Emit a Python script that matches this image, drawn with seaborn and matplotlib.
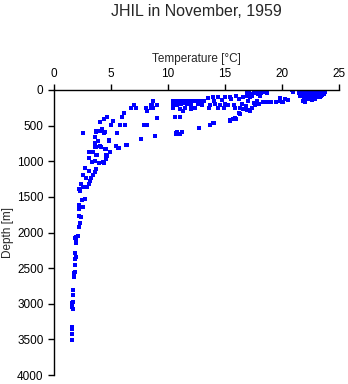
import seaborn as sns
import matplotlib
matplotlib.use("Agg")
import matplotlib.pyplot as plt
from pandas import DataFrame

# temperature [degC] and depth [m], grouped by region
# deep tail
deep_temp = [1.55, 1.6, 1.58, 1.55, 1.67, 1.6, 1.67, 1.55, 1.7, 1.7, 1.75, 1.78, 1.85, 1.81,
             1.87, 1.9, 1.83, 1.96, 1.9, 1.87, 1.93, 2.08, 2.19, 2.31, 2.34, 2.16, 2.22, 2.19,
             2.57, 2.43, 2.72, 2.31, 2.22, 2.57, 2.92, 2.4, 3.04, 3.16, 3.27, 2.81, 2.51, 3.39,
             3.6, 3.68, 3.1, 2.75, 3.95, 4.36, 3.3, 3.6, 4.59, 3.1, 3.74, 4.59, 3.45, 3.1, 4.94,
             4.53, 5.7, 5.47, 6.3, 4.06, 3.63, 3.6, 3.83, 4.85, 3.6, 7.63, 8.83, 2.51, 3.68,
             4.41, 5.55, 10.7, 11.05]
deep_depth = [3509, 3430, 3360, 3320, 3080, 3050, 2975, 2990, 2873, 2812, 2620, 2573, 2560, 2461,
              2368, 2340, 2293, 2152, 2115, 2083, 2059, 2050, 1918, 1871, 1787, 1773, 1675, 1610,
              1638, 1544, 1530, 1418, 1390, 1366, 1366, 1324, 1324, 1277, 1240, 1240, 1193, 1193,
              1151, 1113, 1132, 1100, 1029, 1029, 1015, 992, 973, 959, 912, 912, 875, 875, 875,
              833, 819, 786, 772, 786, 795, 749, 711, 711, 664, 688, 646, 599, 585,
              599, 599, 599, 617]

# thermocline, cold side
mid_temp = [7.0, 6.73, 7.16, 8.04, 8.18, 8.53, 8.68, 8.48, 6.14, 5.99, 5.2, 4.67, 4.39, 4.0,
            4.97, 5.79, 6.2, 7.89, 8.13, 4.24, 3.65, 4.0, 4.44, 4.82, 7.6, 3.57, 3.65, 4.1,
            5.41, 5.61, 6.37, 4.47, 3.13, 3.45, 4.91, 3.65, 4.62, 3.07, 4.53, 3.36, 4.32]
mid_depth = [210, 257, 257, 257, 295, 257, 154, 210, 327, 375, 435, 383, 411, 453,
             491, 491, 491, 491, 491, 547, 575, 575, 594, 702, 688, 749, 795, 795,
             786, 810, 772, 833, 866, 866, 866, 912, 922, 950, 969, 1006, 1015]

# thermocline, warm side
upper_temp = [8.71, 8.57, 9.0, 8.71, 9.06, 8.86, 10.41, 10.46, 11.2, 11.34, 11.64, 12.2, 12.8,
              13.2, 13.5, 13.97, 14.4, 14.7, 15.0, 15.4, 16.0, 16.6, 16.9, 10.41, 11.05, 11.29,
              12.37, 13.62, 14.4, 13.68, 15.3, 15.88, 16.3, 16.9, 16.3, 15.88, 15.44, 10.61,
              11.05, 13.68, 13.97, 12.75, 10.76, 11.2, 10.7,
              10.6, 11.0, 11.5, 11.8, 12.5, 13.0, 14.0, 10.8, 11.1, 12.0, 12.6, 13.0, 14.1,
              14.6, 15.0, 15.8, 16.5, 11.5, 12.0, 14.9, 16.6]
upper_depth = [154, 210, 210, 257, 397, 646, 154, 201, 154, 187, 201, 154, 154,
               154, 117, 98, 98, 140, 94, 94, 80, 94, 24, 257, 266, 295,
               257, 257, 257, 210, 210, 257, 257, 281, 341, 397, 421, 383,
               383, 491, 468, 538, 585, 585, 622,
               154, 160, 150, 158, 160, 150, 154, 205, 200, 205, 200, 210, 200,
               205, 200, 205, 200, 257, 262, 257, 262]

# mixed layer
surf_temp = [17.0, 17.1, 17.2, 17.3, 17.4, 17.0, 17.5, 17.6, 16.9, 17.2, 18.07, 18.2, 17.9,
             18.0, 18.3, 18.65, 18.1, 17.05, 17.2, 16.8, 17.4, 17.6, 17.5, 16.2, 15.7, 15.4,
             16.0, 14.0, 15.5, 16.2, 17.0, 17.8, 18.3, 18.65, 19.0, 19.5, 19.8, 20.1, 20.55,
             19.8, 20.3, 20.85, 21.0, 21.9, 22.0, 22.6, 21.8, 20.0, 18.0, 17.7,
             21.5, 21.7, 21.8, 21.9, 22.0, 22.0, 22.1, 22.2, 22.3, 22.4, 22.5, 22.5, 22.6,
             22.7, 22.8, 22.8, 22.9, 23.0, 23.0, 23.1, 23.2, 23.2, 23.3, 23.4, 23.5, 23.5,
             23.6, 23.7, 22.2, 22.9, 21.6, 23.4,
             22.1, 22.4, 22.7, 23.1, 23.3, 23.6, 22.3, 22.9, 23.4, 21.9, 22.6, 23.8]
surf_depth = [10, 30, 50, 70, 90, 60, 20, 40, 80, 100, 24, 45, 60,
              10, 30, 47, 80, 281, 300, 230, 250, 215, 187, 327, 411, 430,
              411, 458, 130, 120, 150, 160, 164, 164, 164, 164, 160, 164, 140,
              117, 130, 0, 24, 140, 164, 140, 154, 170, 190, 200,
              40, 10, 60, 30, 0, 80, 50, 20, 100, 40, 70, 5, 30,
              90, 55, 15, 75, 35, 100, 5, 60, 85, 25, 45, 10, 70,
              30, 50, 110, 120, 90, 0,
              65, 95, 110, 80, 105, 15, 125, 130, 90, 115, 45, 35]

data = DataFrame({
    'temperature': deep_temp + mid_temp + upper_temp + surf_temp,
    'depth': deep_depth + mid_depth + upper_depth + surf_depth,
})

sns.set_style("ticks")
plt.rcParams['font.family'] = ['Liberation Sans', 'DejaVu Sans']

fig = plt.figure(figsize=(3.48, 3.84), dpi=100)
ax = fig.add_axes([54 / 348, 1 - 375 / 384, 285 / 348, 285 / 384])

sns.scatterplot(x='temperature', y='depth', data=data, ax=ax,
                marker='s', s=5, color='#0000ff', linewidth=0)

# axis styling: x axis on top, depth increasing downwards
ax.set_xlim(0, 25)
ax.set_ylim(4000, 0)
ax.set_xticks(range(0, 26, 5))
ax.set_yticks(range(0, 4001, 500))
ax.xaxis.tick_top()
ax.xaxis.set_label_position('top')
for side in ('right', 'bottom'):
    ax.spines[side].set_visible(False)
for side in ('left', 'top'):
    ax.spines[side].set_linewidth(1.0)
    ax.spines[side].set_color('black')
ax.tick_params(direction='out', length=4, width=1, labelsize=8.5, pad=3.5, colors='black')

ax.set_xlabel("Temperature [°C]", fontsize=8.5, labelpad=4)
ax.set_ylabel("Depth [m]", fontsize=8.5, labelpad=2)

fig.text(196 / 348, 1 - 12 / 384, "JHIL in November, 1959",
         ha='center', va='center', fontsize=11.5)

plt.savefig("out.png", dpi=100)
